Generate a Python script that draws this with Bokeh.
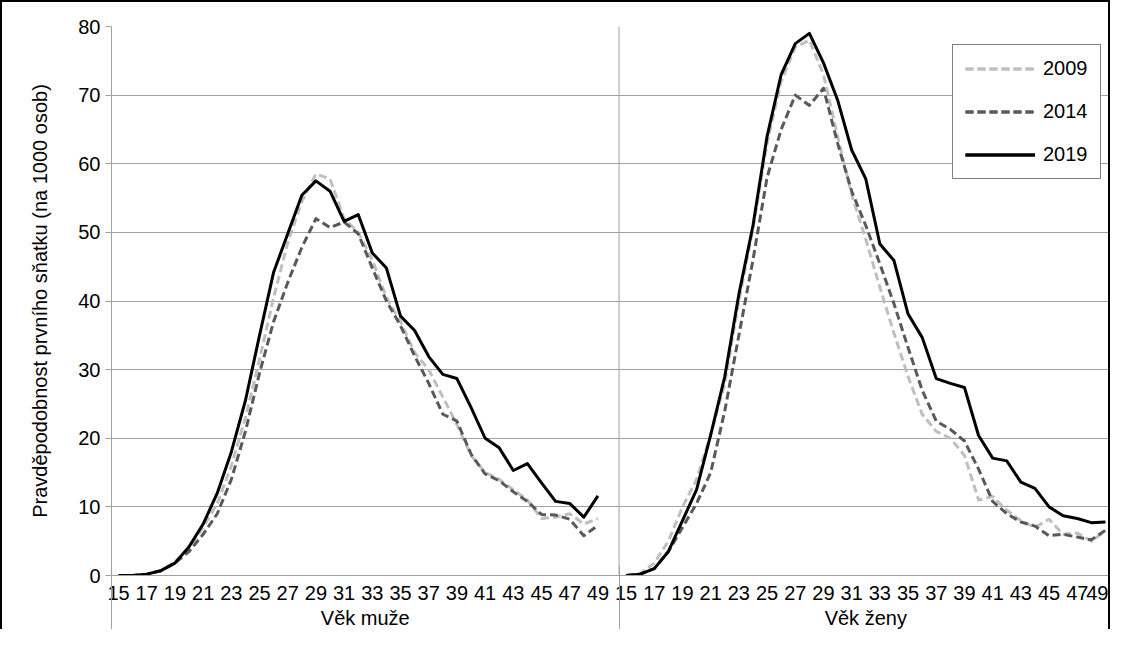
from bokeh.plotting import figure
from bokeh.models import Range1d, FixedTicker, LinearAxis, Legend, LegendItem, Span
from bokeh.embed import file_html
from bokeh.resources import INLINE

ages = list(range(15, 50))
tick_ages = list(range(15, 50, 2))
group_labels = ["Věk muže", "Věk ženy"]
years = ["2009", "2014", "2019"]

men_2009 = [0, 0, 0.2, 0.7, 2.0, 4.0, 7.0, 10.5, 16.0, 23.0,
            31.5, 40.5, 48.5, 54.5, 58.5, 57.8, 52.0, 50.0, 46.0, 40.5,
            37.0, 32.5, 30.0, 26.0, 22.0, 17.5, 15.0, 14.0, 12.5, 11.0,
            8.3, 8.5, 9.0, 7.5, 8.3]
men_2014 = [0, 0, 0.2, 0.7, 1.8, 3.5, 6.0, 9.0, 14.0, 21.0,
            29.5, 37.0, 42.7, 47.8, 52.0, 50.7, 51.5, 49.8, 44.8, 40.0,
            36.4, 32.0, 28.0, 23.5, 22.5, 17.7, 14.8, 13.8, 12.2, 10.8,
            8.9, 8.8, 8.2, 5.8, 7.3]
men_2019 = [0, 0, 0.2, 0.7, 1.8, 4.2, 7.5, 12.0, 18.0, 25.5,
            35.0, 44.2, 49.8, 55.4, 57.5, 56.0, 51.6, 52.6, 47.0, 44.8,
            37.8, 35.7, 31.9, 29.3, 28.7, 24.5, 20.0, 18.6, 15.3, 16.3,
            13.5, 10.8, 10.5, 8.5, 11.6]
women_2009 = [0, 0.3, 1.8, 5.0, 10.0, 14.0, 20.5, 28.0, 40.0, 50.5,
              63.0, 72.0, 77.0, 78.0, 73.0, 64.0, 55.5, 49.0, 42.0, 35.3,
              29.0, 23.5, 21.0, 20.0, 17.5, 11.0, 11.5, 9.5, 8.0, 7.0,
              8.2, 6.0, 6.2, 5.0, 6.5]
women_2014 = [0, 0.2, 1.0, 3.5, 7.0, 10.5, 15.0, 24.0, 35.0, 46.0,
              58.0, 65.0, 70.0, 68.5, 71.0, 63.0, 56.0, 51.0, 45.4, 39.6,
              33.2, 27.0, 22.5, 21.3, 19.6, 15.5, 10.8, 9.0, 7.8, 7.2,
              5.8, 6.0, 5.6, 5.2, 6.6]
women_2019 = [0, 0.2, 1.0, 3.5, 8.0, 12.5, 20.5, 29.0, 41.0, 51.0,
              64.0, 73.0, 77.5, 79.0, 74.7, 69.3, 62.0, 57.8, 48.3, 45.9,
              38.1, 34.7, 28.7, 28.0, 27.4, 20.4, 17.1, 16.7, 13.6, 12.7,
              10.0, 8.7, 8.3, 7.7, 7.8]

men = [men_2009, men_2014, men_2019]
women = [women_2009, women_2014, women_2019]
colors = ["#bfbfbf", "#595959", "#000000"]
dashes = ["8 4", "8 4", "solid"]

n = len(ages)
# men occupy slots 0..n-1, one empty slot, women occupy n+1..2n
x_men = list(range(n))
x_women = [n + 1 + i for i in range(n)]
x_lo, x_hi = -0.5, 2 * n + 0.5
divider = n + 0.5

FONT = "Liberation Sans"
GRID = "#a0a0a0"

p = figure(width=1110, height=629, output_backend="svg", toolbar_location=None,
           x_range=Range1d(x_lo, x_hi), y_range=Range1d(0, 80),
           min_border_left=109, min_border_right=0, min_border_top=24,
           min_border_bottom=0, background_fill_color="white",
           border_fill_color="white")
p.styles = {"border-top": "2px solid black", "border-left": "2px solid black",
            "border-right": "2px solid black"}
p.outline_line_color = None

# x axis 1: ages
tick_pos = [x_men[i] for i, a in enumerate(ages) if a in tick_ages] + \
           [x_women[i] for i, a in enumerate(ages) if a in tick_ages]
p.xaxis.ticker = FixedTicker(ticks=tick_pos, minor_ticks=[])
overrides = {}
for i, a in enumerate(ages):
    if a in tick_ages:
        overrides[x_men[i]] = str(a)
        overrides[x_women[i]] = str(a)
p.xaxis.major_label_overrides = overrides
p.xaxis.major_tick_out = 0
p.xaxis.major_tick_in = 0
p.xaxis.minor_tick_out = 0
p.xaxis.minor_tick_in = 0
p.xaxis.axis_line_color = GRID
p.xaxis.major_label_text_font = FONT
p.xaxis.major_label_text_font_size = "20px"
p.xaxis.major_label_text_color = "black"
p.xaxis.major_label_standoff = 10

# x axis 2: group labels + divider lines running down to the bottom
ax2 = LinearAxis(ticker=FixedTicker(ticks=[(x_lo + divider) / 2, (divider + x_hi) / 2],
                                    minor_ticks=[x_lo, divider, x_hi]))
ax2.major_label_overrides = {(x_lo + divider) / 2: group_labels[0],
                             (divider + x_hi) / 2: group_labels[1]}
ax2.axis_line_color = None
ax2.major_tick_out = 0
ax2.major_tick_in = 0
ax2.minor_tick_in = 36
ax2.minor_tick_out = 30
ax2.minor_tick_line_color = GRID
ax2.minor_tick_line_width = 1
ax2.major_label_text_font = FONT
ax2.major_label_text_font_size = "20px"
ax2.major_label_text_color = "black"
ax2.major_label_standoff = -26
p.add_layout(ax2, "below")

# y axis
p.yaxis.ticker = FixedTicker(ticks=list(range(0, 81, 10)), minor_ticks=[])
p.yaxis.axis_line_color = GRID
p.yaxis.major_tick_line_color = GRID
p.yaxis.major_tick_out = 6
p.yaxis.major_tick_in = 0
p.yaxis.minor_tick_out = 0
p.yaxis.minor_tick_in = 0
p.yaxis.major_label_text_font = FONT
p.yaxis.major_label_text_font_size = "20px"
p.yaxis.major_label_text_color = "black"
p.yaxis.major_label_standoff = 5
p.yaxis.axis_label = "Pravděpodobnost prvního sňatku (na 1000 osob)"
p.yaxis.axis_label_text_font = FONT
p.yaxis.axis_label_text_font_size = "20px"
p.yaxis.axis_label_text_font_style = "normal"
p.yaxis.axis_label_text_color = "black"
p.yaxis.axis_label_standoff = 24

p.xgrid.visible = False
p.ygrid.ticker = FixedTicker(ticks=list(range(0, 81, 10)))
p.ygrid.grid_line_color = GRID
p.ygrid.grid_line_width = 1

p.add_layout(Span(location=divider, dimension="height", line_color=GRID, line_width=1))

items = []
for yr, mv, wv, c, d in zip(years, men, women, colors, dashes):
    r1 = p.line(x_men, mv, line_color=c, line_width=3, line_dash=d, line_join="round")
    r2 = p.line(x_women, wv, line_color=c, line_width=3, line_dash=d, line_join="round")
    items.append(LegendItem(label=yr, renderers=[r1, r2]))

legend = Legend(items=items, location=(841, 396))
legend.label_text_font = FONT
legend.label_text_font_size = "20px"
legend.label_text_color = "black"
legend.glyph_width = 70
legend.glyph_height = 23
legend.label_standoff = 8
legend.spacing = 20
legend.padding = 12
legend.margin = 0
legend.border_line_color = "black"
legend.border_line_width = 1.5
legend.background_fill_color = "white"
legend.background_fill_alpha = 1
p.add_layout(legend)

open("out.html", "w").write(file_html(p, INLINE))
